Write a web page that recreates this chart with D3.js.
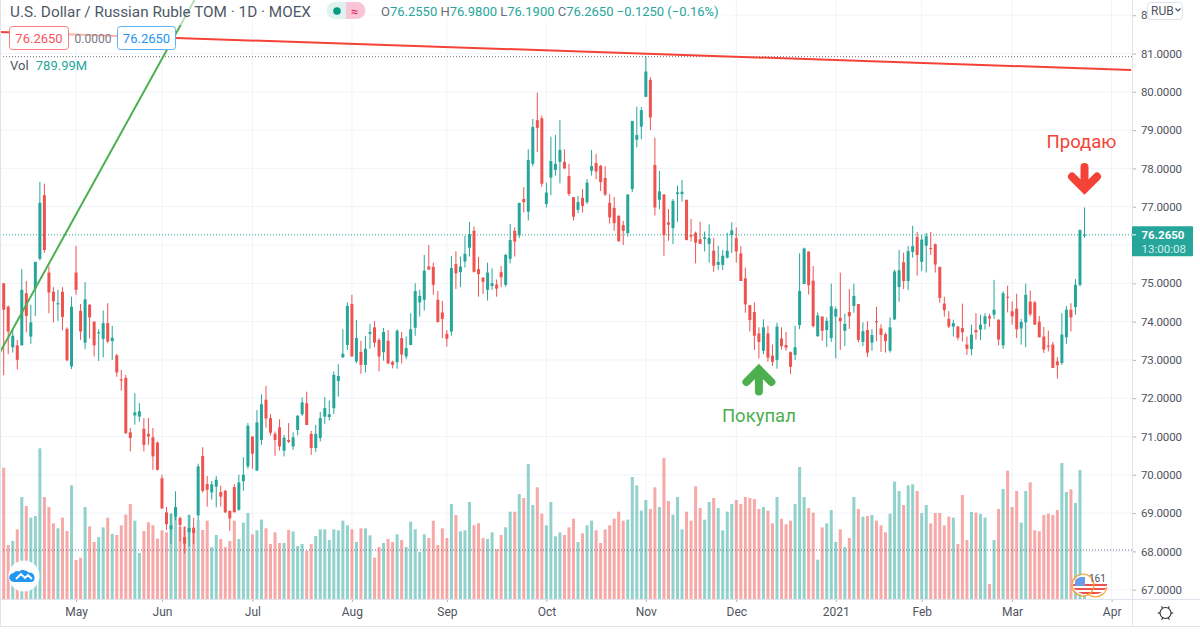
<!DOCTYPE html>
<html>
<head>
<meta charset="utf-8">
<style>
html, body { margin: 0; padding: 0; background: #fff; }
text { font-family: "Roboto", "Noto Sans", sans-serif; }
</style>
<script src="https://cdn.jsdelivr.net/npm/d3@7"></script>
</head>
<body>
<div id="chart"></div>
<script>
const priceOpen = [
  75.0,74.39,73.33,73.38,73.38,74.74,73.61,74.86,75.64,77.3,
  75.28,74.78,74.45,74.78,73.81,72.83,75.28,74.28,73.45,74.44,
  74.0,73.69,73.55,73.96,73.49,73.12,72.49,72.53,71.11,71.55,
  71.52,71.2,71.07,70.98,70.84,69.91,69.02,68.58,68.91,68.87,
  68.37,68.5,68.62,68.94,70.49,69.76,69.54,69.69,69.55,69.58,
  69.06,69.68,69.09,69.83,70.22,71.0,70.11,70.91,71.96,71.48,
  71.07,71.24,70.63,70.91,70.74,71.17,71.58,71.87,71.07,70.7,
  70.96,71.52,71.51,71.74,72.45,73.07,73.39,74.46,72.96,73.21,
  72.87,73.68,73.85,73.52,73.2,73.5,72.95,72.94,73.57,73.09,
  73.39,73.84,74.5,74.57,75.44,75.43,74.57,74.24,73.68,73.74,
  75.5,75.29,75.57,75.93,76.37,75.37,75.15,74.83,74.93,74.97,
  75.29,74.96,75.64,76.37,76.25,77.2,76.87,78.12,79.26,79.31,
  77.07,77.76,77.96,78.17,78.17,77.8,77.25,76.92,77.23,77.12,
  77.94,78.14,78.07,77.75,77.1,76.97,76.76,76.52,76.31,77.46,
  78.75,79.09,79.87,80.31,78.09,77.18,77.32,76.59,76.44,77.33,
  77.33,77.18,76.26,76.32,76.15,76.16,76.03,75.85,75.48,75.48,
  75.67,76.26,76.18,75.78,75.13,74.43,74.25,73.69,73.24,73.69,
  73.11,73.0,73.56,73.39,73.2,73.13,73.91,74.98,75.83,75.07,
  73.62,74.13,73.78,73.57,74.13,74.1,73.76,74.25,74.41,74.46,
  73.47,73.78,73.45,74.01,73.82,73.67,73.24,74.06,74.9,75.55,
  75.06,75.82,76.21,75.56,75.98,75.92,76.02,75.43,74.47,74.07,
  73.87,73.87,73.83,73.4,73.28,73.78,73.79,73.94,74.14,74.18,
  74.05,73.38,74.65,74.27,74.34,73.82,73.98,74.52,74.5,74.0,
  73.61,73.37,73.4,72.96,72.92,73.59,74.31,74.38,74.96,76.255
];
const priceClose = [
  74.31,73.74,73.63,73.0,74.83,74.15,73.98,75.56,77.1,75.87,
  74.76,74.53,74.48,74.12,72.99,74.39,74.83,73.74,74.58,74.11,
  73.38,73.72,73.96,73.48,73.58,72.67,72.46,71.09,70.96,71.63,
  71.66,70.78,71.0,70.48,70.13,69.12,68.71,68.68,69.16,68.69,
  68.2,68.61,68.48,70.22,69.58,69.61,69.75,69.87,69.43,69.02,
  68.86,69.02,69.8,70.0,71.28,70.55,71.37,71.84,71.47,71.1,
  70.91,70.74,70.97,70.86,70.98,71.54,71.89,71.3,70.7,71.07,
  71.48,71.74,71.58,72.61,72.58,73.16,74.41,73.09,73.57,72.87,
  73.29,73.73,73.45,73.09,73.73,72.91,72.87,73.76,73.14,73.31,
  73.8,74.8,74.67,75.33,75.36,74.96,73.99,74.07,73.55,75.4,
  75.26,75.44,75.77,76.28,75.3,75.24,75.04,75.28,75.0,74.86,
  75.16,75.74,76.13,76.09,77.1,77.12,78.22,79.08,79.06,77.6,
  77.37,78.19,78.12,78.48,78.0,77.33,76.74,77.12,77.02,77.63,
  78.06,77.92,77.64,77.32,76.72,76.57,76.1,76.37,77.32,79.24,
  78.87,79.52,80.53,79.33,76.98,77.4,76.26,76.53,77.15,77.37,
  77.39,76.13,76.22,76.06,76.03,76.2,76.18,75.46,75.56,75.72,
  75.85,76.38,75.83,75.06,74.45,74.04,73.63,73.47,73.85,73.06,
  72.95,73.87,73.36,73.32,72.82,73.33,74.8,75.91,74.95,73.88,
  74.16,73.76,74.02,74.4,74.33,74.01,73.94,74.14,74.67,73.52,
  73.75,73.19,73.65,73.98,73.65,73.49,73.85,75.31,75.34,75.06,
  75.84,75.97,75.74,76.14,76.23,75.9,75.49,74.62,74.3,73.87,
  73.96,73.58,73.72,73.29,73.66,73.72,73.92,74.14,74.08,74.31,
  73.53,74.74,74.63,74.14,73.8,73.99,74.7,74.19,73.92,73.59,
  73.27,73.34,72.79,72.86,73.66,74.31,74.11,74.96,76.39,76.265
];
const priceHigh = [
  75.0,74.42,73.8,73.52,75.37,75.06,74.44,75.56,77.65,77.6,
  75.44,74.9,74.83,74.9,73.85,74.65,75.97,74.46,75.03,74.46,
  74.0,73.8,74.29,74.48,73.89,73.16,72.74,72.61,71.22,72.13,
  71.87,71.48,71.48,71.22,70.87,70.0,69.16,69.0,69.57,68.91,
  68.65,68.96,68.87,70.29,70.72,69.97,69.84,69.97,69.72,69.61,
  69.06,69.76,70.0,70.46,71.35,71.0,71.69,72.1,72.32,71.58,
  71.13,71.45,71.04,71.35,71.11,71.56,72.02,72.17,71.15,71.3,
  71.64,72.03,71.94,72.7,72.89,73.8,74.5,74.7,74.04,73.5,
  73.63,73.94,74.01,73.57,73.83,73.78,72.98,73.8,73.73,73.61,
  74.22,75.0,74.83,75.74,76.0,75.54,74.8,74.54,73.78,75.71,
  75.84,75.7,76.24,76.6,76.48,75.69,75.15,75.54,75.39,75.1,
  75.45,75.77,76.55,76.46,77.1,77.51,78.5,79.29,79.98,79.38,
  77.63,78.83,78.87,79.26,78.5,78.12,77.25,77.28,77.46,77.72,
  78.48,78.38,78.09,78.06,77.33,77.25,76.78,76.63,77.32,79.24,
  79.61,79.6,80.93,80.38,78.8,77.93,77.32,76.94,77.2,77.55,
  77.7,77.18,76.68,76.35,76.61,76.35,76.54,76.18,75.98,75.87,
  76.32,76.59,76.46,75.97,75.41,74.43,74.5,73.85,74.06,73.89,
  73.4,73.97,73.85,73.73,73.22,73.89,75.78,75.93,75.83,75.45,
  74.24,74.14,74.11,74.99,74.39,75.28,74.21,74.85,74.99,74.46,
  73.98,74.01,73.8,74.39,73.93,73.71,74.11,75.36,75.87,75.8,
  75.97,76.5,76.34,76.26,76.32,76.34,76.04,75.43,74.65,74.27,
  74.05,73.89,74.47,73.61,73.92,74.22,74.18,74.22,74.2,75.09,
  74.05,74.79,74.94,74.53,74.73,74.07,74.99,74.81,74.54,74.15,
  73.86,73.76,73.47,73.07,74.22,74.41,74.48,75.11,76.41,76.98
];
const priceLow = [
  72.6,73.15,73.19,72.75,73.38,73.72,73.42,74.15,75.6,75.8,
  74.22,73.98,74.02,73.77,72.96,72.76,74.7,73.52,73.28,73.56,
  73.09,72.97,73.07,73.44,73.0,72.56,72.2,71.06,70.61,71.31,
  71.39,70.61,70.78,70.13,70.11,69.12,68.56,68.2,68.81,68.26,
  67.95,68.13,68.2,68.82,69.54,69.17,69.35,69.15,69.17,69.0,
  68.54,69.02,69.06,69.58,70.16,70.16,70.11,70.78,71.23,71.03,
  70.5,70.63,70.48,70.83,70.65,71.03,71.54,71.3,70.52,70.6,
  70.87,71.33,71.42,71.59,72.04,73.05,73.26,73.09,72.91,72.64,
  72.67,73.29,73.33,72.7,72.98,72.89,72.78,72.77,72.91,73.02,
  73.38,73.63,74.13,74.29,75.35,74.7,73.97,73.57,73.35,73.63,
  74.85,74.9,75.41,75.7,75.28,74.65,74.72,74.55,74.83,74.65,
  74.9,74.91,75.52,75.7,76.18,76.85,76.64,78.05,78.43,77.52,
  76.98,77.3,77.81,77.61,77.98,77.28,76.64,76.83,76.85,77.07,
  77.81,77.72,77.41,77.28,76.56,76.37,76.08,76.0,76.22,77.38,
  78.55,78.76,79.86,79.0,76.77,76.94,75.72,76.11,76.03,76.61,
  77.13,76.12,76.09,75.52,76.03,75.83,75.54,75.3,75.35,75.35,
  75.65,75.79,75.54,75.06,74.23,73.74,73.26,73.04,73.15,72.95,
  72.84,72.77,73.27,73.24,72.63,73.0,73.8,74.98,74.71,73.85,
  73.6,73.5,73.34,73.47,73.04,73.26,73.36,73.81,74.23,73.46,
  73.36,73.08,73.24,73.49,73.21,73.19,73.19,74.04,74.52,74.85,
  74.82,75.67,75.2,75.32,75.28,75.74,75.28,74.49,74.13,73.83,
  73.61,73.51,73.48,73.13,73.12,73.53,73.51,73.79,73.86,74.07,
  73.38,73.29,74.24,73.92,73.57,73.4,73.33,74.14,73.92,73.59,
  73.18,73.22,72.79,72.51,72.87,73.42,73.74,74.18,74.92,76.19
];
// volume, billions
const volume = [
  19.7,8.1,8.7,10.45,15.3,13.95,12.2,12.45,22.6,15.3,
  13.8,11.35,10.6,12.2,10.2,17.05,5.85,6.2,13.8,10.9,
  8.55,9.3,10.75,12.2,9.75,9.6,11.05,12.65,14.25,11.75,
  6.9,10.2,11.5,11.05,9.05,10.3,10.0,12.75,13.15,10.85,
  10.85,12.6,10.25,11.85,10.35,11.75,7.8,9.6,9.0,7.8,
  8.7,11.75,9.0,11.45,12.9,9.7,10.3,11.9,10.6,8.25,
  10.0,8.4,8.4,10.35,10.15,7.95,8.25,7.25,8.25,9.45,
  10.45,10.45,8.85,10.45,10.3,11.75,11.05,10.45,8.55,10.6,
  10.6,9.55,6.2,7.8,8.4,9.0,8.55,9.7,8.85,7.8,
  11.6,10.45,7.05,9.7,9.15,11.75,8.1,10.6,9.15,14.25,
  12.6,10.15,10.3,14.55,11.05,11.35,9.15,9.0,10.0,7.5,
  9.6,10.75,13.1,13.1,15.75,15.15,20.25,14.1,16.75,12.8,
  11.05,14.55,9.4,10.0,9.6,10.75,12.05,8.55,9.85,11.05,
  11.75,10.3,8.4,10.45,11.05,12.05,13.1,11.75,11.9,18.3,
  17.05,13.25,14.85,13.5,16.75,13.8,21.15,14.7,12.65,15.3,
  10.45,13.1,11.75,16.9,13.65,11.9,14.55,15.15,13.65,10.3,
  13.1,14.25,14.85,14.25,15.3,15.15,15.0,13.5,13.8,13.25,
  11.35,15.3,12.05,11.2,11.75,14.25,19.8,15.3,13.65,12.95,
  5.9,10.75,11.35,13.35,8.55,10.45,7.8,9.15,15.3,13.5,
  12.35,12.45,12.6,11.75,11.05,10.0,12.8,17.6,16.2,14.1,
  17.05,17.2,16.2,12.9,14.1,11.35,12.9,12.9,11.05,12.35,
  12.2,8.25,15.6,8.85,13.05,12.95,12.75,12.2,2.25,8.85,
  13.5,16.5,19.25,13.8,16.2,11.45,16.2,17.5,10.3,10.15,
  12.6,12.8,12.6,13.35,20.4,16.05,16.45,14.4,19.35,0.79
];

const priceTicks = [67,68,69,70,71,72,73,74,75,76,77,78,79,80,81,82];
const monthTickIdx = [16,35,55,77,98,120,142,162,184,203,223,245];
const monthLabels = ["May","Jun","Jul","Aug","Sep","Oct","Nov","Dec","2021","Feb","Mar","Apr"];

const lastPrice = 76.265;
const highLinePrice = 80.93;
const lowLinePrice = 68.05;
const redTrend = [[-0.82,81.56],[249.3,80.57]];
const greenTrend = [[-0.82,73.2],[42.2,82.4]];

const WIDTH = 1200, HEIGHT = 632;
const PLOT_RIGHT = 1132, PLOT_BOTTOM = 599, OUTER_BOTTOM = 626;
const UP = "#26a69a", DOWN = "#ef5350", GRID = "#f0f3fa", BORDER = "#e0e3eb", TEXT = "#50535e";

const x = d3.scaleLinear().domain([0, 239]).range([3.7, 1084.5]);
const y = d3.scaleLinear().domain([67, 81]).range([589.7, 53.5]);
const yVol = d3.scaleLinear().domain([0, 30]).range([PLOT_BOTTOM, PLOT_BOTTOM - 200]);

const candles = priceOpen.map((o, i) => ({
    i, o, c: priceClose[i], h: priceHigh[i], l: priceLow[i], v: volume[i]
}));
const color = d => d.c >= d.o ? UP : DOWN;

const svg = d3.select("#chart").append("svg")
    .attr("width", WIDTH)
    .attr("height", HEIGHT)
    .style("display", "block")
    .style("background", "#fff");

// grid
const defs = svg.append("defs");
defs.append("clipPath").attr("id", "plot")
    .append("rect").attr("width", PLOT_RIGHT).attr("height", PLOT_BOTTOM);

const gridG = svg.append("g");
gridG.selectAll(".hgrid").data(priceTicks).join("line")
    .attr("x1", 0).attr("x2", PLOT_RIGHT)
    .attr("y1", d => y(d)).attr("y2", d => y(d))
    .attr("stroke", GRID).attr("stroke-width", 1);
gridG.selectAll(".vgrid").data(monthTickIdx).join("line")
    .attr("x1", d => x(d)).attr("x2", d => x(d))
    .attr("y1", 0).attr("y2", PLOT_BOTTOM)
    .attr("stroke", GRID).attr("stroke-width", 1);

const plot = svg.append("g").attr("clip-path", "url(#plot)");

// dotted high/low lines
plot.selectAll(".extreme").data([highLinePrice, lowLinePrice]).join("line")
    .attr("x1", 0).attr("x2", PLOT_RIGHT)
    .attr("y1", d => y(d) + 0.5).attr("y2", d => y(d) + 0.5)
    .attr("stroke", "#6a6d78").attr("stroke-width", 1).attr("stroke-dasharray", "1,2");

// volume
plot.append("g").selectAll("rect").data(candles).join("rect")
    .attr("x", d => x(d.i) - 1.5)
    .attr("width", 3)
    .attr("y", d => yVol(d.v))
    .attr("height", d => PLOT_BOTTOM - yVol(d.v))
    .attr("fill", color)
    .attr("opacity", 0.5);

// last price line
plot.append("line")
    .attr("x1", 0).attr("x2", PLOT_RIGHT)
    .attr("y1", y(lastPrice)).attr("y2", y(lastPrice))
    .attr("stroke", UP).attr("stroke-width", 1).attr("stroke-dasharray", "1,2");

// candles
const candleG = plot.append("g");
candleG.selectAll(".wick").data(candles).join("line")
    .attr("x1", d => x(d.i)).attr("x2", d => x(d.i))
    .attr("y1", d => y(d.h)).attr("y2", d => y(d.l))
    .attr("stroke", color).attr("stroke-width", 1);
candleG.selectAll(".body").data(candles).join("rect")
    .attr("x", d => x(d.i) - 1.5)
    .attr("width", 3)
    .attr("y", d => y(Math.max(d.o, d.c)))
    .attr("height", d => Math.max(1, Math.abs(y(d.o) - y(d.c))))
    .attr("fill", color);

// trend lines
const trendLine = d3.line().x(d => x(d[0])).y(d => y(d[1]));
plot.append("path").attr("d", trendLine(greenTrend))
    .attr("fill", "none").attr("stroke", "#4caf50").attr("stroke-width", 2);
plot.append("path").attr("d", trendLine(redTrend))
    .attr("fill", "none").attr("stroke", "#f44336").attr("stroke-width", 2);

// drawn arrows and labels
function arrow(g, tipI, tipPrice, dir, col) {
    const tx = x(tipI), ty = y(tipPrice);
    g.append("path")
        .attr("d", `M${tx - 12.5},${ty + dir * 12.5} L${tx},${ty} L${tx + 12.5},${ty + dir * 12.5} M${tx},${ty} L${tx},${ty + dir * 22}`)
        .attr("fill", "none")
        .attr("stroke", col)
        .attr("stroke-width", 8)
        .attr("stroke-linecap", "round")
        .attr("stroke-linejoin", "miter");
}
arrow(svg, 167, 72.75, 1, "#4caf50");
arrow(svg, 239, 77.46, -1, "#f44336");
svg.append("text").attr("x", x(167)).attr("y", y(71.38))
    .attr("text-anchor", "middle").attr("font-size", 18.5)
    .attr("fill", "#4caf50").text("Покупал");
svg.append("text").attr("x", 1081.5).attr("y", y(78.54))
    .attr("text-anchor", "middle").attr("font-size", 18.5)
    .attr("fill", "#f44336").text("Продаю");

// legend
svg.append("rect").attr("x", 0).attr("y", 0).attr("width", 730).attr("height", 25).attr("fill", "#fff").attr("opacity", 0.6);
svg.append("text").attr("x", 10).attr("y", 17)
    .attr("font-size", 15.3).attr("fill", "#4f5966")
    .text("U.S. Dollar / Russian Ruble TOM · 1D · MOEX");

const pill = svg.append("g");
pill.append("path").attr("d", "M346,2 h-11 a8.5,8.5 0 0 0 0,17 h11 z").attr("fill", "#dff2ef");
pill.append("path").attr("d", "M346,2 h11 a8.5,8.5 0 0 1 0,17 h-11 z").attr("fill", "#f9c4d6");
pill.append("circle").attr("cx", 337).attr("cy", 11).attr("r", 3.8).attr("fill", "#089981");
pill.append("text").attr("x", 354.5).attr("y", 15.5).attr("text-anchor", "middle")
    .attr("font-size", 13).attr("fill", "#d81b60").text("≈");

const ohlc = [["O","76.2550"],["H","76.9800"],["L","76.1900"],["C","76.2650"]];
const ohlcText = svg.append("text").attr("x", 381).attr("y", 16).attr("font-size", 13);
ohlc.forEach(d => {
    ohlcText.append("tspan").attr("fill", "#6a6d78").text(d[0]);
    ohlcText.append("tspan").attr("fill", UP).text(d[1] + " ");
});
ohlcText.append("tspan").attr("fill", UP).text("−0.1250 (−0.16%)");

// position tool labels
svg.append("rect").attr("x", 9).attr("y", 26).attr("width", 110).attr("height", 23.5).attr("fill", "#fff").attr("opacity", 0.6);
const posG = svg.append("g");
posG.append("rect").attr("x", 9.5).attr("y", 26.5).attr("width", 59).attr("height", 23).attr("rx", 3)
    .attr("fill", "#fff").attr("stroke", "#f77c80");
posG.append("text").attr("x", 39).attr("y", 43).attr("text-anchor", "middle")
    .attr("font-size", 13).attr("fill", "#f7525f").text("76.2650");
posG.append("text").attr("x", 93).attr("y", 42.5).attr("text-anchor", "middle")
    .attr("font-size", 12).attr("fill", "#787b86").text("0.0000");
posG.append("rect").attr("x", 117.5).attr("y", 26.5).attr("width", 58).attr("height", 23).attr("rx", 3)
    .attr("fill", "#fff").attr("stroke", "#5eb0f5");
posG.append("text").attr("x", 146.5).attr("y", 43).attr("text-anchor", "middle")
    .attr("font-size", 13).attr("fill", "#2196f3").text("76.2650");

const volText = svg.append("text").attr("x", 10).attr("y", 70).attr("font-size", 13);
volText.append("tspan").attr("fill", "#50535e").text("Vol ");
volText.append("tspan").attr("dx", 4).attr("fill", UP).text("789.99M");

// axes, the 76 label sits under the last price box so it is left out
const yAxis = d3.axisRight(y)
    .tickValues(priceTicks.filter(d => d !== 76))
    .tickFormat(d3.format(".4f"))
    .tickSize(4)
    .tickPadding(5);
const yAxisG = svg.append("g")
    .attr("transform", `translate(${PLOT_RIGHT},0)`)
    .call(yAxis);
yAxisG.select(".domain").remove();
yAxisG.selectAll("line").attr("stroke", "#b2b5be");
yAxisG.selectAll("text").attr("font-size", 11.5).attr("letter-spacing", -0.15)
    .attr("font-family", "Roboto").attr("fill", TEXT);

const xAxis = d3.axisBottom(x)
    .tickValues(monthTickIdx)
    .tickFormat((d, i) => monthLabels[i])
    .tickSize(3)
    .tickPadding(5);
const xAxisG = svg.append("g")
    .attr("transform", `translate(0,${PLOT_BOTTOM})`)
    .call(xAxis);
xAxisG.select(".domain").remove();
xAxisG.selectAll("line").attr("stroke", "#b2b5be");
xAxisG.selectAll("text").attr("font-size", 12).attr("font-family", "Roboto").attr("fill", TEXT);

// frame
const frame = svg.append("g").attr("stroke", BORDER).attr("stroke-width", 1);
frame.append("line").attr("x1", 0).attr("x2", WIDTH).attr("y1", PLOT_BOTTOM + 0.5).attr("y2", PLOT_BOTTOM + 0.5);
frame.append("line").attr("x1", 0).attr("x2", WIDTH).attr("y1", OUTER_BOTTOM + 0.5).attr("y2", OUTER_BOTTOM + 0.5);
frame.append("line").attr("x1", PLOT_RIGHT + 0.5).attr("x2", PLOT_RIGHT + 0.5).attr("y1", 0).attr("y2", OUTER_BOTTOM);
frame.append("line").attr("x1", 0.5).attr("x2", 0.5).attr("y1", 0).attr("y2", OUTER_BOTTOM);

// last price label
const lastY = y(lastPrice);
svg.append("rect").attr("x", PLOT_RIGHT).attr("y", lastY - 8.5).attr("width", 61).attr("height", 30).attr("rx", 1).attr("fill", UP);
svg.append("line").attr("x1", PLOT_RIGHT).attr("x2", PLOT_RIGHT + 4).attr("y1", lastY).attr("y2", lastY).attr("stroke", "#fff");
svg.append("text").attr("x", PLOT_RIGHT + 9.5).attr("y", lastY + 4.2)
    .attr("font-size", 11.5).attr("font-weight", 700).attr("fill", "#fff").text("76.2650");
svg.append("text").attr("x", PLOT_RIGHT + 9.5).attr("y", lastY + 18)
    .attr("font-size", 11.5).attr("fill", "#d4eeeb").text("13:00:08");

// currency button
svg.append("rect").attr("x", 1147.5).attr("y", 2.5).attr("width", 35).attr("height", 17).attr("rx", 3)
    .attr("fill", "#fff").attr("stroke", BORDER);
svg.append("text").attr("x", 1151).attr("y", 15).attr("font-size", 12).attr("fill", "#50535e").text("RUB");
svg.append("path").attr("d", "M1175.5,8.5 l2.5,2.5 l2.5,-2.5").attr("fill", "none").attr("stroke", "#50535e").attr("stroke-width", 1.2);

// logo
const logo = svg.append("g").attr("transform", "translate(24,576)");
logo.append("circle").attr("r", 15.5).attr("fill", "#fff");
logo.append("path")
    .attr("d", "M-10,6 a4.5,4.5 0 0 1 -0.5,-9 a5,5 0 0 1 6,-1.5 q2.5,-3 5,-1 q2,-0.5 4,2 a5,5 0 0 1 6,5 a4.5,4.5 0 0 1 -2.5,4.5 z")
    .attr("fill", "#2196f3");
logo.append("path").attr("d", "M-8,3 L-3,-2 L1,2 L4,-1 L8,3")
    .attr("fill", "none").attr("stroke", "#fff").attr("stroke-width", 1.8);

// economic events badge
const badge = svg.append("g").attr("transform", "translate(1083,585)");
badge.append("ellipse").attr("cx", 7).attr("rx", 18).attr("ry", 11).attr("fill", "#fff");
badge.append("clipPath").attr("id", "flag").append("ellipse").attr("cx", 7).attr("rx", 17).attr("ry", 10);
const flag = badge.append("g").attr("clip-path", "url(#flag)");
[-1, 3, 7].forEach(s => flag.append("rect").attr("x", -10).attr("y", s).attr("width", 34).attr("height", 2).attr("fill", "#ef5350"));
flag.append("rect").attr("x", -8).attr("y", -8).attr("width", 10).attr("height", 9).attr("fill", "#6c9ce8");
badge.append("circle").attr("r", 11).attr("fill", "none").attr("stroke", "#f7a12c").attr("stroke-width", 1.2);
badge.append("path").attr("d", "M6,10 a12,12 0 0 0 14,-1 q3,-2 4,-7").attr("fill", "none").attr("stroke", "#f7a12c").attr("stroke-width", 1.2);
badge.append("text").attr("x", 6).attr("y", -3.5).attr("font-size", 10).attr("fill", "#50535e").text("161");

// settings gear
const gear = svg.append("g").attr("transform", "translate(1165.5,613)")
    .attr("stroke", "#2a2e39").attr("fill", "none").attr("stroke-width", 1.1);
gear.append("circle").attr("r", 5.5);
d3.range(0, 360, 60).forEach(a => {
    const r = a * Math.PI / 180;
    gear.append("line")
        .attr("x1", 5.5 * Math.cos(r)).attr("y1", 5.5 * Math.sin(r))
        .attr("x2", 7.8 * Math.cos(r)).attr("y2", 7.8 * Math.sin(r));
});
</script>
</body>
</html>
